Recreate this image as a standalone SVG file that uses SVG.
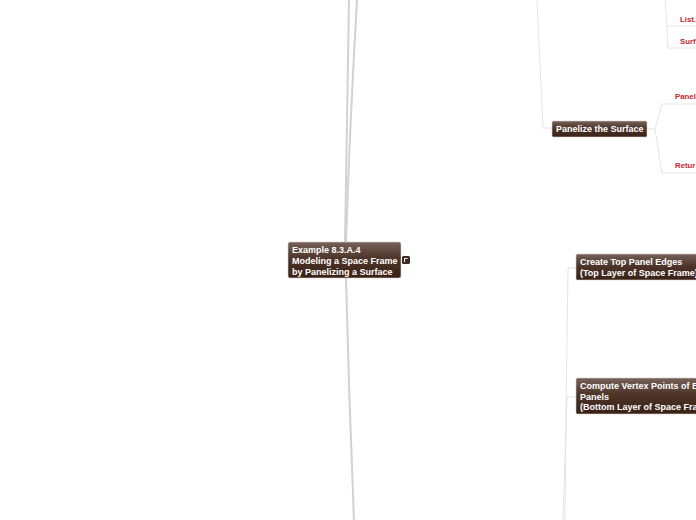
<svg xmlns="http://www.w3.org/2000/svg" width="696" height="520" viewBox="0 0 696 520">
<defs>
<linearGradient id="g" x1="0" y1="0" x2="0" y2="1">
<stop offset="0" stop-color="#75625a"/>
<stop offset="0.45" stop-color="#4e3529"/>
<stop offset="1" stop-color="#3a2116"/>
</linearGradient>
<style>
.n{fill:url(#g);stroke:#d8d0cc;stroke-width:0.6}
.t{font-family:"Liberation Sans",Arial,sans-serif;font-weight:bold;font-size:9px;fill:#ffffff}
.r{font-family:"Liberation Sans",Arial,sans-serif;font-weight:bold;font-size:7.8px;fill:#c3282c}
.thick{fill:none;stroke:#d2d2d2;stroke-width:2}
.thin{fill:none;stroke:#e4e4e4;stroke-width:1}
</style>
</defs>
<rect width="696" height="520" fill="#ffffff"/>
<g id="connectors">
<path class="thick" d="M345,242 Q347,120 349,0"/>
<path class="thick" d="M346,242 Q350,120 357,0"/>
<path class="thick" d="M346,278 Q349,400 354,520"/>
<path class="thin" d="M537,0 Q540,64 543,128 L552,128"/>
<path class="thin" d="M647,129 L655,129 L662,104 L696,104"/>
<path class="thin" d="M655,129 L662,173 L696,173"/>
<path class="thin" d="M665,0 Q666,13 667,26 L696,26"/>
<path class="thin" d="M667,26 L668,48 L696,48"/>
<path class="thin" d="M565,520 Q566,394 568,268 L576,268"/>
<path class="thin" d="M563,520 Q565,458 567,397 L576,397"/>
</g>
<g id="root">
<rect class="n" x="288" y="242" width="113" height="36" rx="2"/>
<text class="t" x="292" y="253">Example 8.3.A.4</text>
<text class="t" x="292" y="264">Modeling a Space Frame</text>
<text class="t" x="292" y="274.5">by Panelizing a Surface</text>
<rect x="402" y="256" width="8" height="8" rx="1.5" fill="#3e2a20"/>
<path d="M404.5,262 L404.5,258.5 L407.5,258.5" fill="none" stroke="#ffffff" stroke-width="1"/>
</g>
<g id="panelize">
<rect class="n" x="552" y="121" width="95" height="16" rx="1.5"/>
<text class="t" x="556" y="132">Panelize the Surface</text>
</g>
<g id="list">
<text class="r" x="680" y="22">List.</text>
</g>
<g id="surf">
<text class="r" x="680" y="44">Surf</text>
</g>
<g id="panel">
<text class="r" x="675" y="99">Panel</text>
</g>
<g id="return">
<text class="r" x="675" y="168">Retur</text>
</g>
<g id="top-edges">
<rect class="n" x="576" y="254" width="130" height="26" rx="1.5"/>
<text class="t" x="580" y="265">Create Top Panel Edges</text>
<text class="t" x="580" y="275.5">(Top Layer of Space Frame)</text>
</g>
<g id="vertex">
<rect class="n" x="576" y="378" width="130" height="36" rx="1.5"/>
<text class="t" x="580" y="389">Compute Vertex Points of B</text>
<text class="t" x="580" y="399.5">Panels</text>
<text class="t" x="580" y="410">(Bottom Layer of Space Fra</text>
</g>
</svg>
